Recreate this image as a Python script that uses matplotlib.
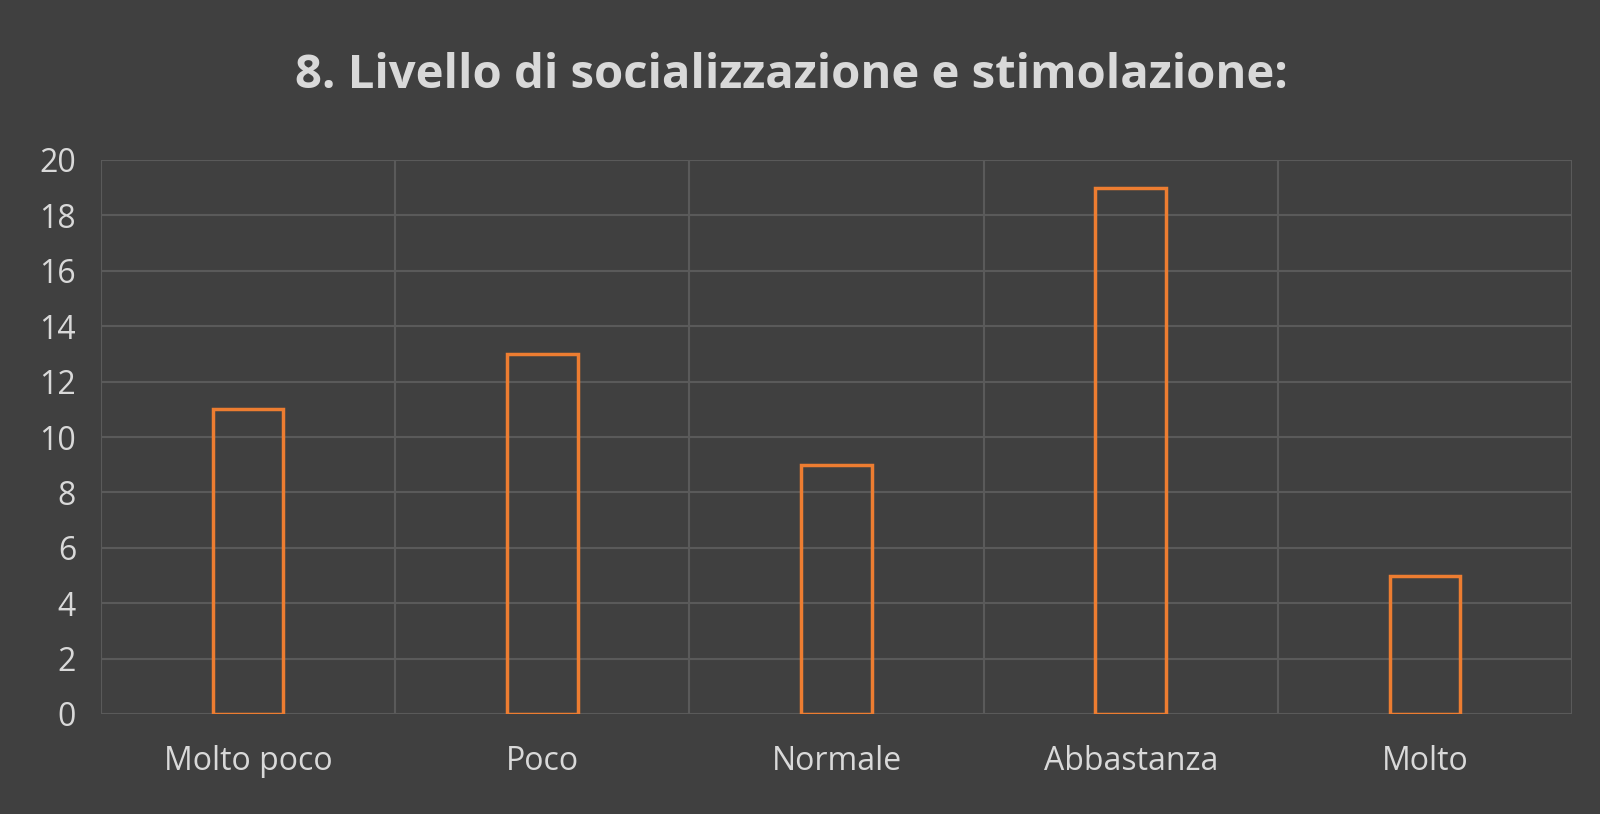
import numpy as np
import matplotlib.pyplot as plt

# data
categories = ['Molto poco', 'Poco', 'Normale', 'Abbastanza', 'Molto']
values = [11, 13, 9, 19, 5]
title = '8. Livello di socializzazione e stimolazione:'

bg = '#404040'
grid_col = '#5a5a5a'
text_col = '#d9d9d9'
bar_col = '#ed7d31'

plt.rcParams['font.family'] = ['Open Sans', 'DejaVu Sans']

fig = plt.figure(figsize=(16, 8.14), dpi=100, facecolor=bg)
ax = fig.add_axes([101/1600, 1 - 714/814, 1471/1600, 554/814], facecolor=bg)

x = np.arange(len(categories))
ax.bar(x, values, width=0.24, facecolor='none', edgecolor=bar_col, linewidth=2.5, zorder=3)

ax.set_xlim(-0.5, len(categories) - 0.5)
ax.set_ylim(0, 20)
ax.set_yticks(range(0, 21, 2))
ax.set_xticks(x)
ax.set_xticklabels(categories)

# category boundary lines and value gridlines
for b in np.arange(-0.5, len(categories), 1.0):
    ax.axvline(b, color=grid_col, linewidth=1.5, zorder=1)
ax.yaxis.grid(True, color=grid_col, linewidth=1.5, zorder=1)
ax.set_axisbelow(True)

for s in ax.spines.values():
    s.set_visible(False)
ax.tick_params(axis='both', length=0, colors=text_col, labelsize=23)
ax.tick_params(axis='x', pad=22)
ax.tick_params(axis='y', pad=18)

fig.text(791/1600, 1 - 76/814, title, ha='center', va='center',
         fontsize=34, fontweight='bold', color=text_col)

fig.savefig('out.png', dpi=100, facecolor=bg)
